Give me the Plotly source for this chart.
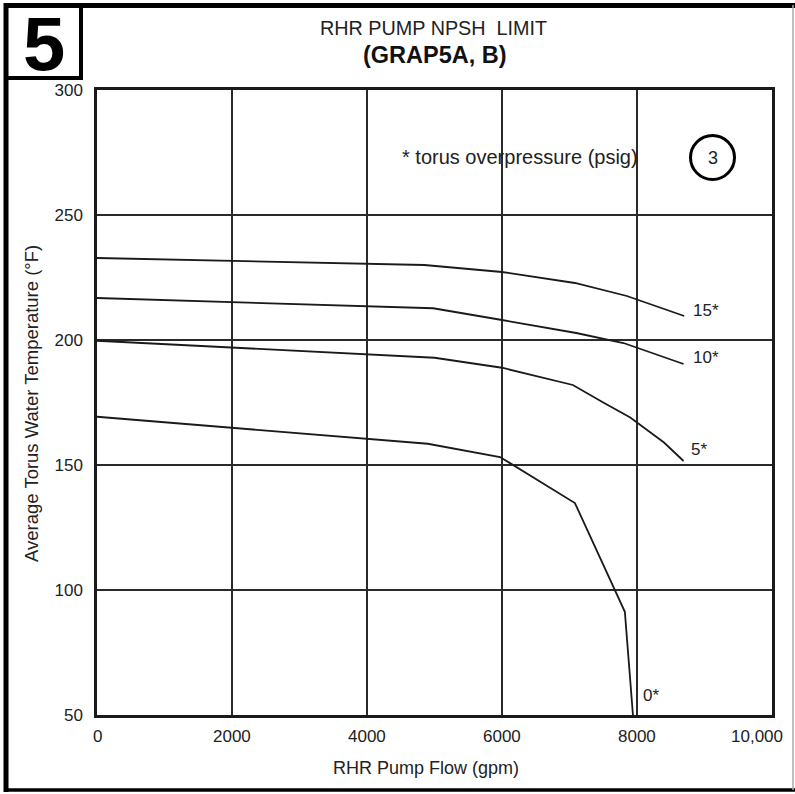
import plotly.graph_objects as go

# ---------------- data ----------------
flow_15 = [0, 4850, 6000, 7080, 7850, 8700]
temp_15 = [232.8, 230.0, 227.2, 222.8, 217.6, 209.6]

flow_10 = [0, 4980, 6000, 7100, 7800, 8690]
temp_10 = [216.8, 212.7, 208.0, 202.8, 198.8, 190.4]

flow_5 = [0, 5000, 6000, 7050, 7500, 7900, 8400, 8690]
temp_5 = [199.7, 192.9, 188.9, 182.0, 175.0, 169.0, 159.0, 151.6]

flow_0 = [0, 4900, 5970, 7080, 7820, 7940]
temp_0 = [169.3, 158.5, 153.2, 134.8, 91.3, 50.0]

series_labels = ["15*", "10*", "5*", "0*"]
label_pos_x = [8800, 8800, 8770, 8060]
label_pos_y = [212.0, 193.2, 156.2, 58.0]

x_tick_vals = [0, 2000, 4000, 6000, 8000, 10000]
x_tick_text = ["0", "2000", "4000", "6000", "8000", "10,000"]
y_tick_vals = [50, 100, 150, 200, 250, 300]

FONT = "Liberation Sans, Arial, sans-serif"
TXT = "#222222"
W, H = 795, 794
L, R, T, B = 97, 772, 90, 715


def px(xp):
    return (xp - L) / (R - L)


def py(yp):
    return (B - yp) / (B - T)


fig = go.Figure()
for fx, ty in [(flow_15, temp_15), (flow_10, temp_10), (flow_5, temp_5), (flow_0, temp_0)]:
    fig.add_trace(go.Scatter(x=fx, y=ty, mode="lines",
                             line=dict(color="#1a1a1a", width=1.8),
                             showlegend=False, hoverinfo="skip"))

annotations = []
for lab, lx, ly in zip(series_labels, label_pos_x, label_pos_y):
    annotations.append(dict(x=lx, y=ly, xref="x", yref="y", text=lab, showarrow=False,
                            xanchor="left", yanchor="middle",
                            font=dict(family=FONT, size=17, color=TXT)))

# x tick labels
for v, t in zip(x_tick_vals, x_tick_text):
    shift = -15 if v == 10000 else 0
    annotations.append(dict(x=v, y=0, xref="x", yref="paper", text=t, showarrow=False,
                            xanchor="center", yanchor="middle", yshift=-21, xshift=shift,
                            font=dict(family=FONT, size=17, color=TXT)))

# titles
annotations += [
    dict(x=px(433), y=py(28), xref="paper", yref="paper", text="RHR PUMP NPSH&nbsp; LIMIT",
         showarrow=False, xanchor="center", yanchor="middle",
         font=dict(family=FONT, size=19.8, color=TXT)),
    dict(x=px(435), y=py(55), xref="paper", yref="paper", text="<b>(GRAP5A, B)</b>",
         showarrow=False, xanchor="center", yanchor="middle",
         font=dict(family=FONT, size=23.5, color="#111111")),
    dict(x=px(426), y=py(768), xref="paper", yref="paper", text="RHR Pump Flow (gpm)",
         showarrow=False, xanchor="center", yanchor="middle",
         font=dict(family=FONT, size=18, color=TXT)),
    dict(x=px(31), y=py(404), xref="paper", yref="paper",
         text="Average Torus Water Temperature (°F)", textangle=-90,
         showarrow=False, xanchor="center", yanchor="middle",
         font=dict(family=FONT, size=18.5, color=TXT)),
    dict(x=px(520), y=py(157), xref="paper", yref="paper", text="* torus overpressure (psig)",
         showarrow=False, xanchor="center", yanchor="middle",
         font=dict(family=FONT, size=20, color=TXT)),
    dict(x=px(712.5), y=py(157.5), xref="paper", yref="paper", text="3",
         showarrow=False, xanchor="center", yanchor="middle",
         font=dict(family=FONT, size=18, color=TXT)),
    dict(x=px(44), y=py(43), xref="paper", yref="paper", text="<b>5</b>",
         showarrow=False, xanchor="center", yanchor="middle",
         font=dict(family=FONT, size=76, color="#000000")),
]

shapes = [
    # outer frame
    dict(type="line", xref="paper", yref="paper", x0=px(6), x1=px(6), y0=py(3), y1=py(792),
         line=dict(color="#000000", width=5)),
    dict(type="line", xref="paper", yref="paper", x0=px(4), x1=px(795), y0=py(5.5), y1=py(5.5),
         line=dict(color="#000000", width=5)),
    dict(type="line", xref="paper", yref="paper", x0=px(4), x1=px(795), y0=py(790), y1=py(790),
         line=dict(color="#000000", width=3.5)),
    dict(type="line", xref="paper", yref="paper", x0=px(793), x1=px(793), y0=py(5), y1=py(790),
         line=dict(color="#aaaaaa", width=1.5)),
    # number box
    dict(type="rect", xref="paper", yref="paper", x0=px(6), x1=px(81), y0=py(5.5), y1=py(78),
         line=dict(color="#000000", width=4)),
    # circle
    dict(type="circle", xref="paper", yref="paper", x0=px(690.5), x1=px(734.5),
         y0=py(135.5), y1=py(179.5), line=dict(color="#000000", width=3)),
]

fig.update_layout(
    width=W, height=H,
    margin=dict(l=L, r=W - R, t=T, b=H - B, pad=0),
    paper_bgcolor="white", plot_bgcolor="white",
    font=dict(family=FONT, size=17, color=TXT),
    annotations=annotations, shapes=shapes,
    xaxis=dict(range=[0, 10000], tickvals=x_tick_vals, showticklabels=False,
               showgrid=True, gridcolor="#2a2a2a", gridwidth=1.5,
               showline=True, linecolor="#1a1a1a", linewidth=2.5, mirror=True,
               zeroline=False, ticks=""),
    yaxis=dict(range=[50, 300], tickvals=y_tick_vals,
               showgrid=True, gridcolor="#2a2a2a", gridwidth=1.5,
               showline=True, linecolor="#1a1a1a", linewidth=2.5, mirror=True,
               zeroline=False, ticks="", ticklabelstandoff=8,
               tickfont=dict(family=FONT, size=17, color=TXT)),
)

fig.write_html("out.html")
